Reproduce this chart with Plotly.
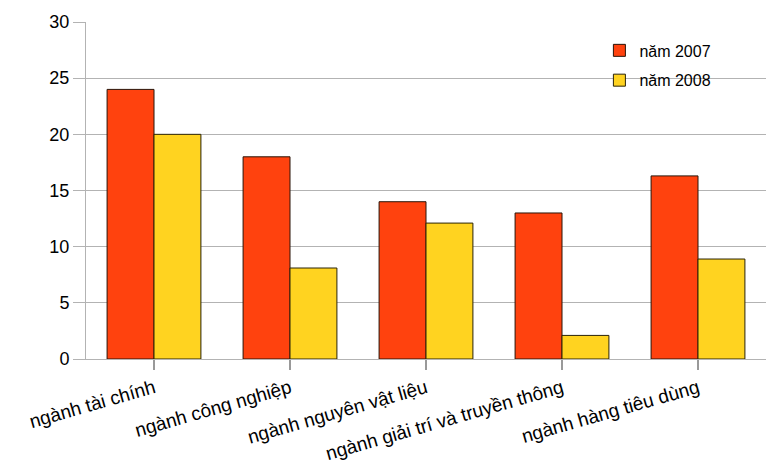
import plotly.graph_objects as go

categories = ["ngành tài chính", "ngành công nghiệp", "ngành nguyên vật liệu",
              "ngành giải trí và truyền thông", "ngành hàng tiêu dùng"]
values_2007 = [24, 18, 14, 13, 16.3]
values_2008 = [20, 8.1, 12.1, 2.1, 8.9]
series_names = ["năm 2007", "năm 2008"]
y_ticks = [0, 5, 10, 15, 20, 25, 30]

fig = go.Figure()
fig.add_trace(go.Bar(x=categories, y=values_2007, name=series_names[0], legendgroup="a",
                     marker=dict(color="#ff420e", line=dict(color="#2a1408", width=1))))
fig.add_trace(go.Bar(x=categories, y=values_2008, name=series_names[1], legendgroup="b",
                     marker=dict(color="#ffd320", line=dict(color="#2a2408", width=1))))

fig.update_layout(
    width=773, height=468,
    margin=dict(l=86, r=7, t=22, b=109, autoexpand=False),
    paper_bgcolor="white", plot_bgcolor="white",
    font=dict(family="Liberation Sans, Arial, sans-serif", color="#000000"),
    barmode="group", bargap=0.31, bargroupgap=0,
    legend=dict(x=0.755, y=0.966, xanchor="left", yanchor="top",
                font=dict(size=16), bgcolor="rgba(0,0,0,0)",
                itemwidth=30, tracegroupgap=6),
    showlegend=True,
)
fig.update_yaxes(range=[0, 30], tickvals=y_ticks, showgrid=True, gridcolor="#b3b3b3",
                 gridwidth=1, showline=True, linecolor="#b3b3b3", ticks="outside",
                 ticklen=12, tickcolor="#b3b3b3", tickfont=dict(size=18),
                 zeroline=False, mirror=False, automargin=False)
fig.update_xaxes(type="category", showline=True, linecolor="#b3b3b3", ticks="outside",
                 ticklen=10, tickcolor="#999999", tickwidth=1.5, tickangle=-16,
                 tickfont=dict(size=19), showgrid=False, automargin=False,
                 tickson="labels")

fig.write_html("out.html")
